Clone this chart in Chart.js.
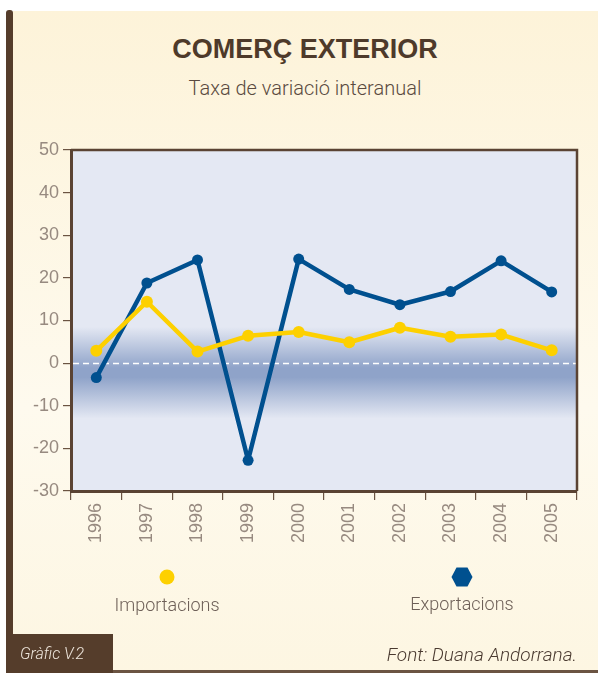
<!DOCTYPE html>
<html><head><meta charset="utf-8">
<script src="https://cdn.jsdelivr.net/npm/chart.js@4/dist/chart.umd.min.js"></script>
<style>
html,body{margin:0;padding:0;background:#fff;}
#wrap{position:relative;width:598px;height:673px;overflow:hidden;background:#fff;}
#panel{position:absolute;left:13px;top:11px;width:585px;height:660px;background:linear-gradient(#fdf3d9,#fefaee 60%,#fdf6e2);}
#bar{position:absolute;left:6px;top:10px;width:7px;height:663px;background:#553d2b;border-radius:3px 3px 0 0;}
#bottomline{position:absolute;left:6px;top:670px;width:592px;height:3px;background:#6b5442;}
#title{position:absolute;left:0;width:610px;top:34px;text-align:center;font-family:"Liberation Sans Narrow","Liberation Sans",sans-serif;font-weight:bold;font-size:27px;color:#4e3a2a;}
#sub{position:absolute;left:0;width:610px;top:76px;text-align:center;font-family:Roboto,sans-serif;font-weight:300;font-size:20px;color:#5a4a40;}
canvas{position:absolute;left:0;top:0;}
.leg{position:absolute;font-family:Roboto,sans-serif;font-weight:300;font-size:18px;color:#6d5f57;text-align:center;width:200px;}
#foot{position:absolute;left:6px;top:634px;width:107px;height:39px;background:#553d2b;}
#foot span{position:absolute;left:14px;top:10px;font-family:Roboto,sans-serif;font-style:italic;font-weight:300;font-size:16px;color:#eee6dc;}
#src{position:absolute;right:21px;top:643px;font-family:Roboto,sans-serif;font-style:italic;font-weight:300;font-size:19px;color:#4a3a30;}
</style></head>
<body><div id="wrap">
<div id="panel"></div>
<div id="bar"></div>
<div id="bottomline"></div>
<div id="title">COMERÇ EXTERIOR</div>
<div id="sub">Taxa de variació interanual</div>
<canvas id="c" width="598" height="673"></canvas>
<svg style="position:absolute;left:159px;top:569px" width="16" height="16"><circle cx="8" cy="8" r="7.5" fill="#fdd000"/></svg>
<div class="leg" style="left:67px;top:594px">Importacions</div>
<svg style="position:absolute;left:451px;top:567px" width="22" height="20"><polygon points="5.5,0.5 16.5,0.5 21.5,10 16.5,19.5 5.5,19.5 0.5,10" fill="#00508f"/></svg>
<div class="leg" style="left:362px;top:593px">Exportacions</div>
<div id="foot"><span>Gràfic V.2</span></div>
<div id="src">Font: Duana Andorrana.</div>
</div>
<script>
const years = ['1996','1997','1998','1999','2000','2001','2002','2003','2004','2005'];
const importacions = [2.9, 14.4, 2.7, 6.4, 7.3, 4.9, 8.3, 6.2, 6.7, 3.0];
const exportacions = [-3.4, 18.8, 24.2, -22.8, 24.4, 17.3, 13.7, 16.8, 24.0, 16.7];
const yTicks = [50, 40, 30, 20, 10, 0, -10, -20, -30];

const brown = '#5a4333';
const tickFont = {family: '"Liberation Sans Narrow", "Liberation Sans", sans-serif', size: 18};
const bgPlugin = {
  id: 'bgPlugin',
  beforeDraw(chart) {
    const {ctx, chartArea: a, scales: {y}} = chart;
    ctx.save();
    ctx.fillStyle = '#e4e8f3';
    ctx.fillRect(a.left, a.top, a.right - a.left, a.bottom - a.top);
    const y1 = y.getPixelForValue(8.5), y2 = y.getPixelForValue(-13);
    const g = ctx.createLinearGradient(0, y1, 0, y2);
    g.addColorStop(0, 'rgba(143,163,201,0)');
    g.addColorStop(0.45, 'rgba(143,163,201,1)');
    g.addColorStop(0.55, 'rgba(143,163,201,1)');
    g.addColorStop(1, 'rgba(143,163,201,0)');
    ctx.fillStyle = g;
    ctx.fillRect(a.left, y1, a.right - a.left, y2 - y1);
    ctx.restore();
  },
  beforeDatasetsDraw(chart) {
    const {ctx, chartArea: a, scales: {y}} = chart;
    const y0 = Math.round(y.getPixelForValue(0)) + 0.5;
    ctx.save();
    ctx.strokeStyle = '#ffffff';
    ctx.lineWidth = 1.3;
    ctx.setLineDash([6, 4]);
    ctx.beginPath(); ctx.moveTo(a.left + 2, y0); ctx.lineTo(a.right, y0); ctx.stroke();
    ctx.setLineDash([]);
    ctx.strokeStyle = brown;
    ctx.lineWidth = 2.5;
    ctx.beginPath();
    ctx.moveTo(a.left, a.top); ctx.lineTo(a.right, a.top); ctx.lineTo(a.right, a.bottom);
    ctx.stroke();
    ctx.restore();
  }
};

new Chart(document.getElementById('c'), {
  type: 'line',
  data: {
    labels: years,
    datasets: [
      {label: 'Importacions', data: importacions, borderColor: '#fdd000', backgroundColor: '#fdd000',
       borderWidth: 4.5, borderJoinStyle: 'round', pointRadius: 6, pointHoverRadius: 6, pointBackgroundColor: '#fdd000', pointBorderWidth: 0, tension: 0},
      {label: 'Exportacions', data: exportacions, borderColor: '#00508f', backgroundColor: '#00508f',
       borderWidth: 4.5, borderJoinStyle: 'round', pointRadius: 5.5, pointHoverRadius: 5.5, pointBackgroundColor: '#00508f', pointBorderWidth: 0, tension: 0}
    ]
  },
  options: {
    responsive: false,
    animation: false,
    layout: {padding: {left: 0, right: 21, top: 150, bottom: 122}},
    plugins: {legend: {display: false}, tooltip: {enabled: false}},
    scales: {
      x: {
        offset: true,
        grid: {offset: true, drawOnChartArea: false, drawTicks: true, tickLength: 9, tickColor: '#6b5442', lineWidth: 1.2},
        border: {color: brown, width: 3},
        ticks: {minRotation: 90, maxRotation: 90, color: '#978a80', padding: 3, font: tickFont},
        afterFit(s) { s.height = 60; }
      },
      y: {
        min: -30, max: 50,
        afterBuildTicks(s) { s.ticks = yTicks.map(v => ({value: v})); },
        grid: {drawOnChartArea: false, drawTicks: true, tickLength: 8, tickColor: '#6b5442', lineWidth: 1.2},
        border: {color: brown, width: 3},
        ticks: {color: '#978a80', padding: 4, font: tickFont},
        afterFit(s) { s.width = 71; }
      }
    }
  },
  plugins: [bgPlugin]
});
</script>
</body></html>
